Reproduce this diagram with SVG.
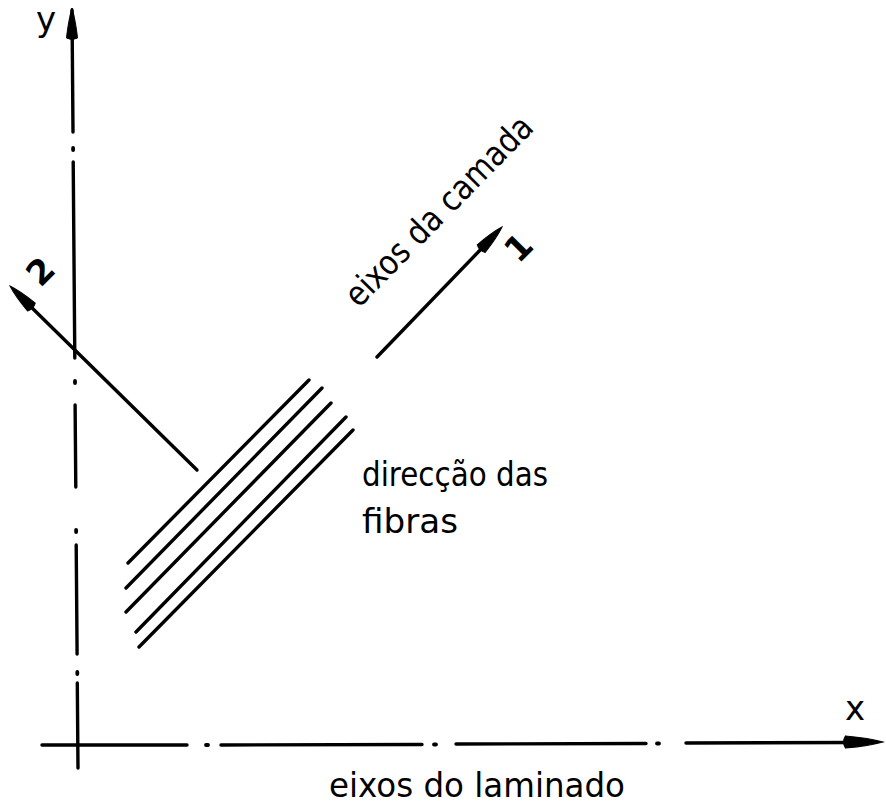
<svg xmlns="http://www.w3.org/2000/svg" xmlns:xlink="http://www.w3.org/1999/xlink" width="886" height="807" viewBox="0 0 886 807">
<style>
.ln{stroke:#000;stroke-width:3.4;fill:none;stroke-linecap:round}
.dot{stroke:#000;stroke-width:3.8;fill:none;stroke-linecap:round}
.ah{fill:#000;stroke:#000;stroke-width:1}
.t{font-family:"DejaVu Sans","Liberation Sans",sans-serif;font-size:34px;fill:#000}
</style>
<defs>
<path id="ah" d="M0,0 C-6,-2 -20,-4.5 -30,-5.5 Q-33,0 -30,5.5 C-20,4.5 -6,2 0,0 Z"/>
</defs>
<rect width="886" height="807" fill="#fff"/>
<g id="connectors">
  <g id="y-axis">
    <path class="ln" d="M72,10 L73,132 M73.2,162 L74.8,358 M75.1,405 L75.8,487 M76.2,545 L77.1,654 M77.3,683 L78,768"/>
    <path class="dot" d="M73.1,148 L73.1,150 M75,381 L75,383 M76.1,530 L76.1,532 M77.3,672 L77.3,674"/>
    <use xlink:href="#ah" class="ah" transform="translate(72,8) rotate(-90)"/>
  </g>
  <g id="x-axis">
    <path class="ln" d="M42,745 L187,745 M221,745 L422,744.5 M456,744 L646,743.5 M686,743 L853,742.5"/>
    <path class="dot" d="M206,745 L208,745 M434,744.5 L436,744.5 M657,743.5 L659,743.5"/>
    <use xlink:href="#ah" class="ah" transform="translate(883,742) rotate(0) scale(1.25,1.1)"/>
  </g>
  <g id="axis-1">
    <path class="ln" d="M377,357 L485,245"/>
    <use xlink:href="#ah" class="ah" transform="translate(502,227) rotate(-46.1)"/>
  </g>
  <g id="axis-2">
    <path class="ln" d="M197,470 L25,301"/>
    <use xlink:href="#ah" class="ah" transform="translate(10,286) rotate(-135.5)"/>
  </g>
</g>
<g id="fibres">
  <path class="ln" d="M128,563 L309,380"/>
  <path class="ln" d="M126,588 L322,388"/>
  <path class="ln" d="M126,612 L331,403"/>
  <path class="ln" d="M136,632 L346,417"/>
  <path class="ln" d="M139,647 L353,430"/>
</g>
<g id="labels">
  <text id="lbl-y" class="t" x="46" y="31" font-size="30" text-anchor="middle">y</text>
  <text id="lbl-x" class="t" x="855" y="720" text-anchor="middle">x</text>
  <text id="lbl-1" class="t" transform="translate(519,248) rotate(-45)" x="0" y="11" text-anchor="middle" font-weight="bold">1</text>
  <text id="lbl-2" class="t" transform="translate(41,272) rotate(-45)" x="0" y="11" text-anchor="middle" font-weight="bold">2</text>
  <text id="lbl-camada" class="t" transform="translate(447,219) rotate(-45.5)" x="0" y="0" text-anchor="middle" textLength="252" lengthAdjust="spacingAndGlyphs">eixos da camada</text>
  <text id="lbl-fibras1" class="t" x="362" y="486" font-size="36" textLength="186" lengthAdjust="spacingAndGlyphs">direcção das</text>
  <text id="lbl-fibras2" class="t" x="362" y="533" font-size="36" textLength="96" lengthAdjust="spacingAndGlyphs">fibras</text>
  <text id="lbl-laminado" class="t" x="329" y="797" textLength="296" lengthAdjust="spacingAndGlyphs">eixos do laminado</text>
</g>
</svg>
